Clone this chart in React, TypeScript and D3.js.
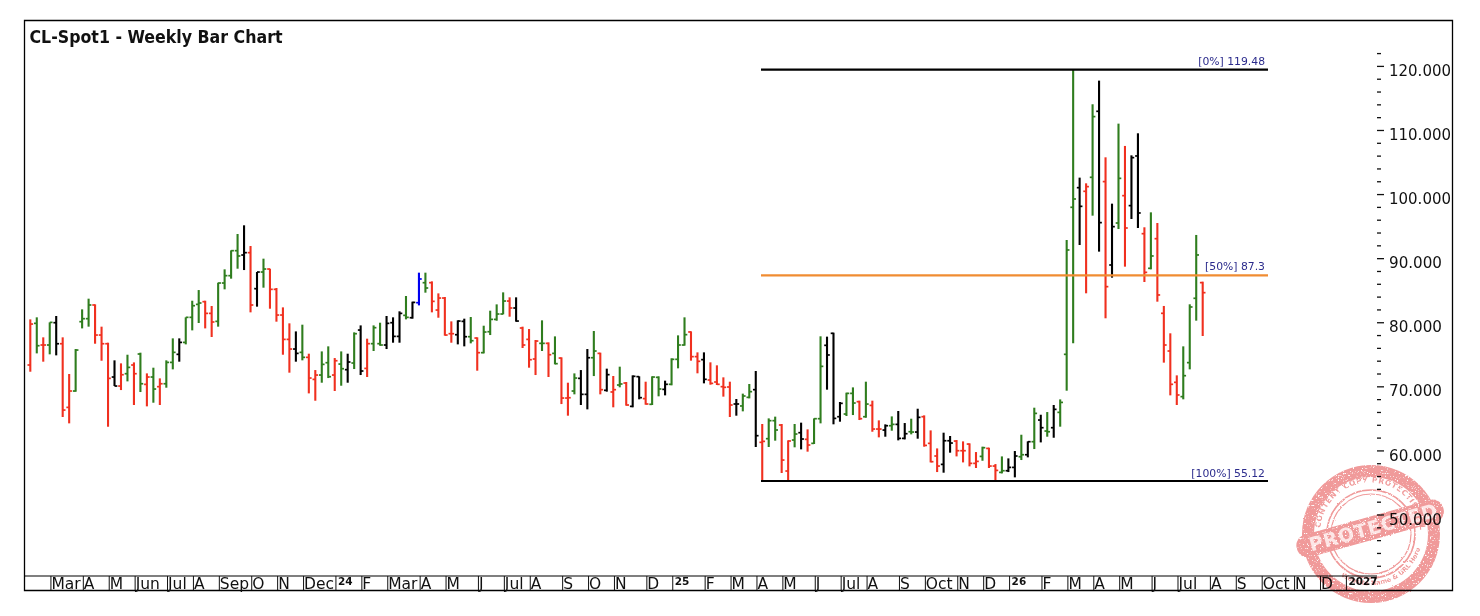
import React from "react";
import * as d3 from "d3";

const highs = [
  80.41, 80.73, 77.6, 79.94, 80.94, 77.6, 71.86, 75.77, 81.98, 83.65,
  82.76, 79.27, 76.76, 74.0, 73.53, 74.88, 73.68, 75.2, 71.96, 72.85,
  71.18, 74.0, 77.44, 77.44, 80.73, 83.33, 85.0, 83.33, 82.5, 86.15,
  88.24, 91.21, 93.77, 95.13, 91.89, 87.82, 89.91, 88.34, 85.32, 82.29,
  79.79, 78.53, 79.58, 75.04, 72.48, 75.4, 76.19, 74.36, 75.4, 75.04,
  78.38, 79.47, 77.39, 79.47, 79.89, 80.94, 80.73, 81.67, 84.07, 83.18,
  87.72, 87.72, 86.36, 84.48, 83.91, 80.1, 80.26, 80.52, 80.78, 77.6,
  79.42, 81.77, 82.76, 84.64, 83.86, 83.86, 79.27, 78.9, 77.18, 80.26,
  76.81, 77.75, 74.47, 70.5, 71.96, 72.48, 75.77, 78.59, 75.2, 72.7,
  71.55, 73.01, 70.61, 71.65, 71.5, 70.66, 71.5, 71.5, 70.82, 74.32,
  77.91, 80.73, 78.54, 75.25, 75.25, 73.69, 73.22, 71.34, 70.66, 67.95,
  68.79, 70.3, 72.33, 64.04, 64.92, 65.19, 64.04, 61.48, 64.04, 64.25,
  63.2, 64.92, 77.76, 77.71, 78.33, 67.48, 68.94, 69.77, 67.69, 70.66,
  67.69, 64.61, 63.98, 65.23, 66.07, 64.19, 64.87, 66.43, 65.39, 63.04,
  60.22, 62.68, 62.16, 61.53, 61.32, 61.01, 59.65, 60.49, 60.33, 57.77,
  58.97, 58.66, 59.81, 62.36, 61.32, 66.59, 65.49, 65.91, 67.01, 67.89,
  92.83, 119.48, 102.59, 101.7, 114.07, 117.77, 105.77, 98.52, 111.04, 107.55,
  106.08, 109.53, 94.82, 97.16, 95.49, 82.51, 78.23, 71.65, 76.19, 82.77,
  93.62, 86.31,
];

const lows = [
  72.22, 75.09, 73.79, 74.94, 74.78, 65.13, 64.14, 69.09, 79.0, 79.27,
  76.6, 73.94, 63.61, 69.98, 69.35, 70.71, 67.01, 69.04, 66.8, 67.37,
  67.01, 69.72, 72.59, 73.79, 76.5, 78.69, 79.84, 79.0, 77.65, 79.27,
  85.11, 86.78, 88.34, 88.13, 81.51, 82.4, 85.37, 82.08, 80.05, 74.88,
  72.07, 73.79, 74.0, 68.83, 67.68, 70.5, 71.23, 69.2, 70.03, 70.5,
  72.64, 71.7, 71.39, 75.46, 76.29, 75.77, 76.76, 76.76, 80.41, 80.52,
  82.6, 84.59, 81.51, 80.67, 77.86, 76.76, 76.5, 76.19, 76.66, 72.38,
  75.09, 77.96, 80.2, 81.2, 80.83, 80.05, 75.93, 72.85, 71.7, 75.46,
  71.39, 73.37, 67.16, 65.34, 68.68, 67.01, 66.33, 71.54, 68.68, 69.1,
  66.65, 69.78, 66.91, 66.65, 67.9, 67.06, 67.01, 68.37, 68.52, 70.09,
  72.75, 76.3, 73.95, 71.97, 70.4, 70.19, 70.14, 68.32, 65.13, 65.34,
  66.02, 68.05, 60.44, 55.17, 60.44, 61.43, 56.37, 55.27, 60.39, 60.07,
  59.71, 60.91, 64.14, 69.41, 63.99, 64.4, 65.29, 65.44, 64.66, 65.02,
  62.83, 61.95, 62.05, 62.99, 61.48, 61.63, 62.42, 61.74, 60.49, 58.03,
  56.52, 56.42, 59.55, 58.97, 58.03, 57.41, 57.15, 58.29, 57.15, 55.12,
  56.31, 56.52, 55.69, 58.4, 58.82, 60.12, 61.16, 62.05, 61.89, 63.62,
  69.25, 76.66, 92.05, 84.49, 96.64, 91.01, 80.58, 86.94, 94.55, 88.66,
  96.12, 94.71, 86.26, 88.24, 83.18, 73.64, 68.52, 67.01, 67.9, 72.59,
  80.21, 77.81,
];

const opens = [
  73.27, 79.79, 76.4, 76.4, 79.89, 76.6, 66.64, 69.2, 80.05, 80.52,
  82.66, 77.96, 76.6, 71.39, 69.98, 71.91, 73.27, 74.99, 70.24, 71.39,
  69.88, 70.34, 73.68, 74.94, 76.81, 80.73, 82.76, 83.18, 81.35, 80.1,
  86.1, 87.25, 91.16, 90.48, 90.85, 85.21, 87.82, 88.29, 85.11, 81.09,
  77.28, 75.77, 75.25, 74.47, 71.02, 71.7, 73.63, 71.7, 73.42, 72.54,
  73.58, 78.74, 72.74, 76.61, 76.61, 76.4, 79.89, 77.75, 81.04, 80.67,
  83.02, 86.15, 86.15, 81.87, 83.75, 78.17, 78.01, 80.1, 77.7, 77.49,
  75.2, 78.48, 80.41, 81.25, 83.28, 82.19, 79.06, 77.28, 74.21, 76.66,
  76.66, 75.09, 74.36, 68.1, 69.2, 71.18, 68.68, 74.41, 75.09, 69.31,
  69.05, 70.14, 70.45, 66.8, 71.45, 68.01, 67.12, 71.34, 69.46, 70.25,
  74.16, 76.4, 78.44, 74.58, 74.11, 70.92, 70.61, 69.88, 69.83, 67.17,
  66.86, 68.21, 69.41, 61.17, 61.74, 64.56, 63.88, 56.68, 61.53, 62.68,
  61.64, 61.01, 64.87, 76.35, 78.23, 65.18, 65.6, 68.83, 67.53, 65.18,
  66.95, 63.25, 63.09, 63.77, 63.98, 61.79, 62.83, 62.78, 65.18, 61.01,
  59.03, 57.72, 61.42, 61.37, 59.86, 60.9, 57.88, 58.97, 60.22, 57.46,
  56.47, 56.73, 57.25, 58.92, 59.23, 61.27, 64.66, 62.94, 63.46, 65.86,
  74.94, 97.95, 101.02, 100.45, 102.64, 112.97, 101.97, 88.92, 95.49, 99.77,
  98.21, 105.98, 93.82, 88.4, 93.04, 81.36, 75.46, 70.56, 68.32, 73.64,
  83.71, 86.16,
];

const closes = [
  79.68, 76.29, 76.4, 79.94, 76.6, 66.22, 69.2, 75.61, 80.52, 82.66,
  77.96, 76.6, 71.18, 69.98, 71.75, 72.9, 71.91, 70.34, 71.39, 69.51,
  70.34, 73.68, 75.25, 76.81, 80.73, 82.55, 82.97, 81.35, 80.0, 86.1,
  87.25, 91.16, 90.33, 90.85, 82.66, 87.82, 88.29, 85.11, 81.09, 77.28,
  75.77, 75.09, 74.47, 71.23, 71.7, 73.37, 71.44, 73.94, 72.69, 73.74,
  78.17, 72.33, 76.61, 79.11, 76.4, 79.79, 77.75, 81.35, 80.73, 83.07,
  86.73, 85.32, 83.23, 83.75, 77.96, 78.17, 80.15, 77.7, 77.07, 75.2,
  78.43, 80.41, 81.25, 83.28, 82.19, 80.15, 76.4, 74.1, 77.02, 76.66,
  74.88, 73.48, 68.1, 68.15, 71.23, 68.68, 74.41, 75.46, 69.41, 71.76,
  69.41, 70.3, 67.01, 71.5, 68.16, 67.17, 71.39, 69.52, 70.25, 74.16,
  76.4, 78.02, 74.58, 73.85, 71.03, 70.4, 70.25, 69.78, 67.01, 67.17,
  68.42, 69.1, 62.21, 61.32, 64.56, 63.1, 58.4, 61.38, 62.47, 61.69,
  60.75, 64.87, 73.06, 74.84, 64.92, 67.27, 68.83, 67.32, 64.87, 67.16,
  63.25, 63.25, 63.77, 63.98, 61.79, 62.52, 62.78, 65.08, 60.69, 58.14,
  57.46, 61.42, 61.06, 59.86, 59.86, 57.88, 58.19, 60.33, 57.46, 56.78,
  56.73, 57.25, 59.03, 59.23, 61.27, 65.7, 63.46, 62.83, 66.33, 67.42,
  91.27, 99.25, 98.1, 101.18, 112.14, 95.55, 85.53, 94.92, 102.48, 94.71,
  105.72, 97.06, 87.77, 90.33, 84.23, 76.4, 70.25, 68.58, 71.6, 82.35,
  90.49, 84.59,
];

// r lower week, g higher week, k inside/outside week, b the single blue bar
const barKinds =
  "RGRGKRRGGG" + "RRRKRGRGRG" + "RGGKGGGRRG" + "GGGKRKGRRR" + "RKGRRGGRGK" +
  "GKRGGKKKGK" + "BGRRRRKKGR" + "GGGGRKRRRG" + "RGRRGKKGRK" + "RGRKKRGGKG" +
  "GGRRKRRRRK" + "GGKRGGRRGK" + "RGGKKKGGRG" + "RRKGKKGKRR" + "RKKRRRRGRR" +
  "GKKGKGKGKG" + "GGKRGKRKGR" + "KKRGRRRRGG" + "GR";

const monthWeeks = [
  3, 8, 12, 16, 21, 25, 29, 34, 38, 42, 47, 51, 55, 60, 64, 69, 73, 77, 82, 86, 90, 95,
  99, 104, 108, 112, 116, 121, 125, 129, 134, 138, 143, 147, 151, 156, 160, 164, 168,
  173, 177, 182, 186, 190, 195, 199, 203,
];
const monthLabels = [
  "Mar", "A", "M", "Jun", "Jul", "A", "Sep", "O", "N", "Dec", "24", "F", "Mar", "A", "M", "J",
  "Jul", "A", "S", "O", "N", "D", "25", "F", "M", "A", "M", "J", "Jul", "A", "S", "Oct", "N", "D",
  "26", "F", "M", "A", "M", "J", "Jul", "A", "S", "Oct", "N", "D", "2027",
];
const yearLabels = ["24", "25", "26", "2027"];

const fibLevels = [
  { label: "[0%] 119.48", value: 119.48, color: "#000", dy: -5 },
  { label: "[50%] 87.3", value: 87.3, color: "#f08c32", dy: -5 },
  { label: "[100%] 55.12", value: 55.12, color: "#000", dy: -4 },
];

const axisValues = [120, 110, 100, 90, 80, 70, 60, 50];
const axisMinorValues = d3.range(42, 124, 2).filter((d) => d % 10 !== 0);

const kindColor: Record<string, string> = {
  R: "#f0301f",
  G: "#2f7d1e",
  K: "#000000",
  B: "#0000f0",
};

const FONT = "'DejaVu Sans', sans-serif";
const STAMP = "#f09a9a";

const x = d3.scaleLinear().domain([0, 181]).range([30.3, 1202.7]);
const y = d3.scaleLinear().domain([119.48, 55.12]).range([69.7, 481]);
const yAxis = d3.scaleLinear().domain([120, 50]).range([66.4, 515]);

const Stamp = () => {
  const cx = 1371;
  const cy = 534;
  const ring = d3.arc()({ innerRadius: 57, outerRadius: 69, startAngle: 0, endAngle: Math.PI * 2 }) ?? "";
  return (
    <g style={{ mixBlendMode: "multiply" }} filter="url(#grunge)">
      <defs>
        <path id="stampTop" d={`M ${cx - 49} ${cy + 12} A 50 50 0 1 1 ${cx + 49} ${cy - 5}`} />
        <path id="stampBottom" d={`M ${cx - 30} ${cy + 42} A 52 52 0 0 0 ${cx + 50} ${cy + 12}`} />
      </defs>
      <path d={ring} transform={`translate(${cx},${cy})`} fill={STAMP} />
      <circle cx={cx} cy={cy} r={44} fill="none" stroke={STAMP} strokeWidth={1.6} />
      <circle cx={cx} cy={cy} r={40} fill="none" stroke={STAMP} strokeWidth={1.2} />
      <text fontFamily={FONT} fontWeight="bold" fontSize={7.5} fill={STAMP} letterSpacing={0.6}>
        <textPath href="#stampTop">WP CONTENT COPY PROTECTION PLUGIN</textPath>
      </text>
      <text fontFamily={FONT} fontWeight="bold" fontSize={6.5} fill={STAMP}>
        <textPath href="#stampBottom">Website Name &amp; URL Here</textPath>
      </text>
      <g transform={`translate(${cx - 1},${cy - 6}) rotate(-15.5)`}>
        <rect x={-76} y={-11} width={152} height={23} rx={11} fill={STAMP} />
        <text
          x={-63}
          y={7}
          fontFamily={FONT}
          fontWeight="bold"
          fontSize={19}
          fill="#fde6e6"
          textLength={132}
          lengthAdjust="spacing"
        >
          PROTECTED
        </text>
      </g>
    </g>
  );
};

export default function App() {
  return (
    <svg
      width={1480}
      height={616}
      style={{ position: "absolute", left: 0, top: 0, display: "block", background: "#fff" }}
    >
      <defs>
        <filter id="grunge" x="-10%" y="-10%" width="120%" height="120%">
          <feTurbulence type="fractalNoise" baseFrequency="0.6" numOctaves={2} seed={4} result="noise" />
          <feDisplacementMap in="SourceGraphic" in2="noise" scale={2} result="rough" />
          <feColorMatrix
            in="noise"
            type="matrix"
            values="0 0 0 0 0  0 0 0 0 0  0 0 0 0 0  7 0 0 0 -1.7"
            result="holes"
          />
          <feComposite in="rough" in2="holes" operator="in" />
        </filter>
      </defs>

      {/* frame */}
      <path d="M24.5 20.5H1452.5V590.5H24.5Z" stroke="#000" strokeWidth={1.3} fill="none" />
      <path d="M24.5 576H1377" stroke="#000" strokeWidth={1.2} />

      <text
        x={29.5}
        y={42.5}
        fontFamily={FONT}
        fontWeight="bold"
        fontSize={17}
        textLength={253}
        lengthAdjust="spacingAndGlyphs"
        fill="#111"
      >
        CL-Spot1 - Weekly Bar Chart
      </text>

      {/* bars */}
      {highs.map((h, i) => {
        const px = x(i);
        const color = kindColor[barKinds[i]];
        return (
          <g key={i} stroke={color} fill="none">
            <line x1={px} x2={px} y1={y(h)} y2={y(lows[i])} strokeWidth={2.1} />
            <line x1={px - 2.8} x2={px} y1={y(opens[i])} y2={y(opens[i])} strokeWidth={1.7} />
            <line x1={px} x2={px + 2.8} y1={y(closes[i])} y2={y(closes[i])} strokeWidth={1.7} />
          </g>
        );
      })}

      {/* swing levels */}
      {fibLevels.map((d) => (
        <g key={d.label}>
          <line x1={761} x2={1268} y1={y(d.value)} y2={y(d.value)} stroke={d.color} strokeWidth={2.2} />
          <text
            x={1265}
            y={y(d.value) + d.dy}
            textAnchor="end"
            fontFamily={FONT}
            fontSize={10.8}
            fill="#2b2b8c"
          >
            {d.label}
          </text>
        </g>
      ))}

      {/* price axis */}
      {axisMinorValues.map((d) => (
        <line key={d} x1={1377} x2={1381} y1={yAxis(d)} y2={yAxis(d)} stroke="#111" strokeWidth={1.3} />
      ))}
      {axisValues.map((d) => (
        <g key={d}>
          <line x1={1377} x2={1384} y1={yAxis(d)} y2={yAxis(d)} stroke="#111" strokeWidth={1.3} />
          <text
            x={1389}
            y={yAxis(d) + 9.6}
            fontFamily={FONT}
            fontSize={16.5}
            textLength={d >= 100 ? 62 : 53}
            lengthAdjust="spacingAndGlyphs"
            fill="#111"
          >
            {d3.format(".3f")(d)}
          </text>
        </g>
      ))}

      {/* time axis */}
      {monthWeeks.map((w, i) => {
        const px = x(w) + 1.2;
        const label = monthLabels[i];
        const isYear = yearLabels.includes(label);
        return (
          <g key={i}>
            <line x1={px} x2={px} y1={576} y2={590} stroke="#111" strokeWidth={1} />
            {isYear ? (
              <text x={px + 2} y={584.5} fontFamily={FONT} fontWeight="bold" fontSize={10.5} fill="#111">
                {label}
              </text>
            ) : (
              <text x={px + 0.5} y={589} fontFamily={FONT} fontSize={15.5} fill="#111">
                {label}
              </text>
            )}
          </g>
        );
      })}

      <Stamp />
    </svg>
  );
}
